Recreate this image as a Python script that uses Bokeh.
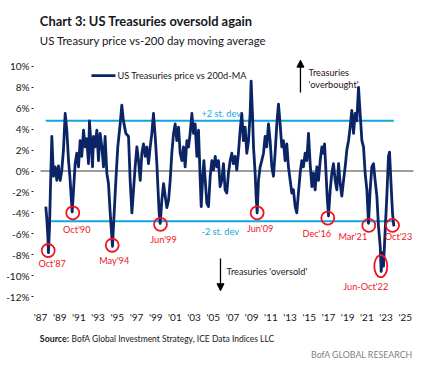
from bokeh.plotting import figure
from bokeh.layouts import column
from bokeh.models import Range1d, FixedTicker, Label, Arrow, NormalHead, ColumnDataSource
from bokeh.embed import file_html
from bokeh.resources import INLINE
from bokeh.core.properties import value

# ---------------- data ----------------
dates = [
    1987.55, 1987.66, 1987.76, 1987.83, 1987.94, 1988.04, 1988.18, 1988.35, 1988.53, 1988.70,
    1988.87, 1989.05, 1989.22, 1989.39, 1989.57, 1989.74, 1989.92, 1990.09, 1990.19, 1990.30,
    1990.44, 1990.61, 1990.78, 1990.96, 1991.13, 1991.30, 1991.48, 1991.65, 1991.82, 1992.00,
    1992.10, 1992.28, 1992.42, 1992.52, 1992.69, 1992.87, 1993.04, 1993.21, 1993.39, 1993.56,
    1993.73, 1993.91, 1994.08, 1994.26, 1994.50, 1994.64, 1994.85, 1995.05, 1995.30, 1995.47,
    1995.64, 1995.89, 1996.17, 1996.34, 1996.52, 1996.69, 1996.86, 1997.04, 1997.21, 1997.39,
    1997.56, 1997.73, 1997.91, 1998.08, 1998.25, 1998.43, 1998.60, 1998.77, 1998.95, 1999.12,
    1999.23, 1999.36, 1999.47, 1999.64, 1999.82, 1999.99, 2000.16, 2000.34, 2000.51, 2000.68,
    2000.86, 2001.03, 2001.20, 2001.38, 2001.55, 2001.73, 2001.90, 2002.07, 2002.25, 2002.42,
    2002.59, 2002.77, 2002.94, 2003.11, 2003.29, 2003.46, 2003.64, 2003.74, 2003.88, 2004.02,
    2004.16, 2004.33, 2004.50, 2004.68, 2004.85, 2005.02, 2005.20, 2005.37, 2005.54, 2005.71,
    2005.89, 2006.06, 2006.23, 2006.41, 2006.58, 2006.76, 2006.93, 2007.10, 2007.28, 2007.45,
    2007.62, 2007.80, 2007.97, 2008.14, 2008.32, 2008.49, 2008.67, 2008.84, 2008.94, 2009.08,
    2009.19, 2009.36, 2009.46, 2009.57, 2009.71, 2009.88, 2010.05, 2010.23, 2010.40, 2010.57,
    2010.75, 2010.92, 2011.10, 2011.27, 2011.44, 2011.62, 2011.79, 2011.96, 2012.14, 2012.31,
    2012.48, 2012.66, 2012.83, 2013.01, 2013.18, 2013.35, 2013.53, 2013.70, 2013.87, 2014.05,
    2014.22, 2014.39, 2014.57, 2014.74, 2014.92, 2015.09, 2015.27, 2015.44, 2015.61, 2015.79,
    2015.96, 2016.14, 2016.31, 2016.48, 2016.59, 2016.73, 2016.86, 2017.00, 2017.18, 2017.35,
    2017.52, 2017.70, 2017.87, 2018.05, 2018.22, 2018.39, 2018.57, 2018.74, 2018.91, 2019.09,
    2019.26, 2019.43, 2019.61, 2019.78, 2019.95, 2020.13, 2020.30, 2020.48, 2020.65, 2020.82,
    2021.00, 2021.17, 2021.34, 2021.52, 2021.69, 2021.86, 2022.04, 2022.21, 2022.39, 2022.49,
    2022.63, 2022.73, 2022.91, 2023.08, 2023.25, 2023.36, 2023.50, 2023.67, 2023.81,
]
values = [
    -3.4, -4.6, -6.2, -7.8, -5.3, -1.5, 3.3, -0.5, 0.4, -0.9,
    0.5, -0.9, 0.1, 2.0, 5.5, 3.9, 1.0, -0.9, -2.4, -3.9,
    -1.8, 0.7, 1.7, 0.4, 2.9, 1.4, 3.9, 2.3, 3.1, 0.7,
    4.8, 2.3, 0.4, 3.3, 2.3, 3.9, 1.0, 3.6, 2.3, 0.4,
    3.3, -0.2, -1.2, -4.0, -7.2, -4.6, -0.9, 2.3, 4.5, 6.3,
    4.8, 3.6, 3.3, -0.9, -4.0, -1.8, 0.4, 2.3, 1.0, -0.9,
    1.7, 2.6, 1.4, 2.3, 0.7, 2.3, 3.6, 5.5, 3.3, 0.7,
    -1.5, -4.0, -5.0, -2.8, -1.2, -2.4, -3.5, -2.8, -0.9, 1.7,
    3.6, 4.5, 2.9, 4.2, 1.7, 1.0, 2.3, 0.4, 2.9, 2.3,
    3.6, 5.5, 3.6, 4.5, 1.4, 3.9, -0.9, -3.4, -0.9, 1.0,
    -0.9, -3.1, -3.4, -0.5, 1.0, 0.1, 1.4, 0.4, 1.0, -1.5,
    -0.9, 0.7, -1.8, -2.1, -0.2, 1.0, 1.7, 0.7, 1.4, 0.1,
    1.7, 3.9, 5.5, 2.9, 4.2, 1.7, 2.9, 5.5, 8.6, 5.5,
    2.3, -0.2, -2.4, -4.0, -0.9, 0.4, 1.0, 1.7, 3.3, 2.3,
    4.5, 2.9, 0.4, -0.5, 1.7, 4.5, 6.4, 4.5, 2.3, 2.9,
    1.0, 2.6, 0.4, -0.9, -2.1, -1.8, -3.4, -4.0, -2.1, -0.2,
    1.0, 0.4, 1.7, 1.0, 3.6, 0.7, -1.5, -0.2, -1.8, 0.4,
    -0.9, 1.0, 2.3, 1.7, 2.6, 0.1, -2.4, -4.3, -1.8, -0.2,
    0.7, -0.9, -1.8, 0.7, -1.2, -2.4, -0.9, 0.4, 2.0, 2.9,
    4.2, 5.8, 3.6, 5.5, 4.8, 8.0, 5.5, 2.9, 2.3, -0.2,
    -1.8, -5.0, -1.8, 0.4, 0.7, -0.9, -2.4, -5.3, -7.2, -9.6,
    -7.8, -9.1, -5.6, -2.4, 1.4, 1.8, -0.9, -4.0, -5.3,
]

sd_levels = [4.8, -4.8]
sd_labels = ["+2 st. dev", "-2 st. dev"]

tick_years = list(range(1987, 2026, 2))
tick_labels = ["'" + str(y)[2:] for y in tick_years]
y_ticks = list(range(-12, 11, 2))
y_tick_labels = [f"{t}%" for t in y_ticks]

ann_names = ["Oct'87", "Oct'90", "May'94", "Jun'99", "Jun'09", "Dec'16", "Mar'21", "Oct'23"]
ann_dates = [1987.80, 1990.36, 1994.47, 1999.50, 2009.57, 2016.93, 2021.20, 2023.67]
ann_values = [-7.6, -4.0, -7.1, -5.1, -4.0, -4.5, -5.2, -5.2]
span_name = "Jun-Oct'22"
span_date = 2022.45
span_value = -9.1

title_text = "Chart 3: US Treasuries oversold again"
subtitle_text = "US Treasury price vs-200 day moving average"
legend_text = "US Treasuries price vs 200d-MA"
source_head = "Source:"
source_text = "BofA Global Investment Strategy, ICE Data Indices LLC"
brand_text = "BofA GLOBAL RESEARCH"

# ---------------- styles ----------------
FONT = "Lato"
NAVY = "#0b2466"
SKY = "#12a5e0"
RED = "#f0141e"
INK = "#161622"
SMALL = "9.2px"
X_END = 2025.85
W = 422


def blank(height):
    f = figure(width=W, height=height, output_backend="svg", toolbar_location=None,
               x_range=Range1d(0, W), y_range=Range1d(height, 0),
               x_axis_location=None, y_axis_location=None, min_border=0)
    f.outline_line_color = None
    f.grid.grid_line_color = None
    return f


# header
header = blank(48)
header.add_layout(Label(x=7, y=20, text=title_text, text_align="left", text_baseline="middle",
                        text_color=INK, text_font=FONT, text_font_style="bold",
                        text_font_size="12.9px"))
header.add_layout(Label(x=7, y=39.5, text=subtitle_text, text_align="left",
                        text_baseline="middle", text_color=INK, text_font=FONT,
                        text_font_size="11.4px"))

# main chart
p = figure(width=W, height=277, output_backend="svg", toolbar_location=None,
           x_range=Range1d(1986.27, 2026.17), y_range=Range1d(-12, 11.046),
           min_border_left=33, min_border_right=6, min_border_top=7, min_border_bottom=28)
p.outline_line_color = None
p.grid.grid_line_color = None

p.xaxis.ticker = FixedTicker(ticks=tick_years)
p.xaxis.major_label_overrides = {y: l for y, l in zip(tick_years, tick_labels)}
p.xaxis.axis_line_color = None
p.xaxis.major_tick_line_color = None
p.xaxis.minor_tick_line_color = None
p.xaxis.major_label_standoff = 8
p.yaxis.ticker = FixedTicker(ticks=y_ticks)
p.yaxis.major_label_overrides = {t: l for t, l in zip(y_ticks, y_tick_labels)}
p.yaxis.axis_line_color = None
p.yaxis.major_tick_line_color = NAVY
p.yaxis.major_tick_out = 2
p.yaxis.major_tick_in = 0
p.yaxis.minor_tick_line_color = None
p.yaxis.major_label_standoff = 2
for ax in (p.xaxis, p.yaxis):
    ax.major_label_text_font = FONT
    ax.major_label_text_font_size = "10px"
    ax.major_label_text_color = INK

# zero line and +/- 2 sd lines
p.segment(x0=[tick_years[0]], y0=[0], x1=[X_END], y1=[0], line_color="#3a3a3a", line_width=1)
p.segment(x0=[dates[0]] * 2, y0=sd_levels, x1=[dates[-1]] * 2, y1=sd_levels,
          line_color=SKY, line_width=2)

# series
p.line(dates, values, line_color=NAVY, line_width=2.8, line_join="round")

# circles and labels
src = ColumnDataSource(dict(x=ann_dates, y=ann_values, name=ann_names,
                            dx=[4, 4, 2, 3, 3, -11, -16, 6],
                            dy=[13, 16.5, 15, 15.5, 15.5, 15, 11, 11]))
p.scatter("x", "y", source=src, marker="circle", size=13, fill_alpha=0,
          line_color=RED, line_width=1.8)
p.text("x", "y", text="name", source=src, x_offset="dx", y_offset="dy",
       text_align="center", text_baseline="middle", text_color=RED,
       text_font=value(FONT), text_font_size=SMALL)
p.ellipse(x=[span_date], y=[span_value], width=13, height=22,
          width_units="screen", height_units="screen",
          fill_alpha=0, line_color=RED, line_width=1.8)
p.add_layout(Label(x=span_date, y=span_value, text=span_name, x_offset=-15, y_offset=-20,
                   text_align="center", text_baseline="middle", text_color=RED,
                   text_font=FONT, text_font_size=SMALL))

# st dev labels
p.add_layout(Label(x=2003.77, y=5.5, text=sd_labels[0], text_align="left", text_baseline="middle",
                   text_color=SKY, text_font=FONT, text_font_size=SMALL))
p.add_layout(Label(x=2003.77, y=-5.8, text=sd_labels[1], text_align="left", text_baseline="middle",
                   text_color=SKY, text_font=FONT, text_font_size=SMALL))

# legend (drawn by hand, as in the reference)
p.segment(x0=[1992.31], y0=[9.13], x1=[1994.81], y1=[9.13], line_color=NAVY, line_width=2.8)
p.add_layout(Label(x=1995.02, y=9.13, text=legend_text, text_align="left",
                   text_baseline="middle", text_color=INK, text_font=FONT,
                   text_font_size=SMALL))

# arrows
p.add_layout(Arrow(end=NormalHead(size=7, fill_color="black", line_color="black"),
                   x_start=2014.08, y_start=7.5, x_end=2014.08, y_end=10.6,
                   line_color="black", line_width=1.3))
p.add_layout(Label(x=2014.92, y=9.41, text="Treasuries", text_align="left", text_baseline="middle",
                   text_color="#2a1010", text_font=FONT, text_font_size=SMALL))
p.add_layout(Label(x=2014.92, y=8.27, text="'overbought'", text_align="left", text_baseline="middle",
                   text_color="#2a1010", text_font=FONT, text_font_size=SMALL))
p.add_layout(Arrow(end=NormalHead(size=7, fill_color="black", line_color="black"),
                   x_start=2005.75, y_start=-8.37, x_end=2005.75, y_end=-11.45,
                   line_color="black", line_width=1.3))
p.add_layout(Label(x=2006.38, y=-9.6, text="Treasuries 'oversold'", text_align="left",
                   text_baseline="middle", text_color="#1a1a1a", text_font=FONT,
                   text_font_size=SMALL))

# footer
footer = blank(38)
footer.add_layout(Label(x=7, y=13, text=source_head, text_align="left", text_baseline="middle",
                        text_color=INK, text_font=FONT, text_font_style="bold",
                        text_font_size="8.8px"))
footer.add_layout(Label(x=42, y=13, text=source_text, text_align="left", text_baseline="middle",
                        text_color=INK, text_font=FONT, text_font_size="8.5px"))
footer.add_layout(Label(x=418, y=28.5, text=brand_text, text_align="right",
                        text_baseline="middle", text_color="#7f7f7f", text_font=FONT,
                        text_font_size="8.8px"))

layout = column(header, p, footer, spacing=0)
open("out.html", "w").write(file_html(layout, INLINE))
